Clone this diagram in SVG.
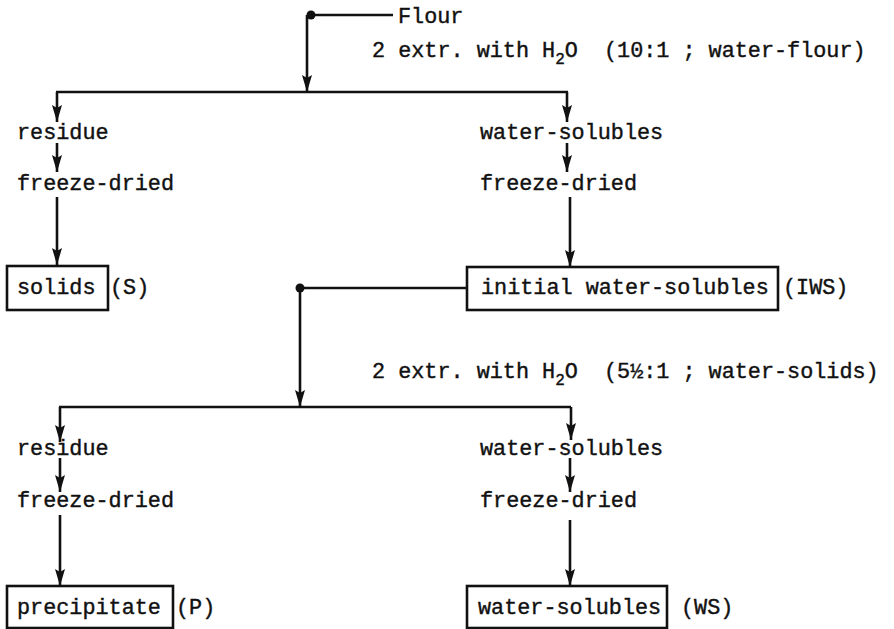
<svg xmlns="http://www.w3.org/2000/svg" width="894" height="629" viewBox="0 0 894 629">
<defs>
<marker id="ah" markerUnits="userSpaceOnUse" markerWidth="18" markerHeight="12" viewBox="0 0 18 12" refX="17" refY="6" orient="auto">
<path d="M0,1 L17,6 L0,11 L3,6 Z" fill="#111"/>
</marker>
<style>
.t{font-family:"Liberation Mono","Courier New",monospace;font-size:21.8px;fill:#111;stroke:#111;stroke-width:0.4}
.s{font-size:16px}
.ln{stroke:#111;stroke-width:2.6;fill:none}
.bx{stroke:#111;stroke-width:2.6;fill:#fff}
</style>
</defs>
<rect width="894" height="629" fill="#fff"/>
<g id="connectors">
<circle cx="311" cy="15" r="4.5" fill="#111"/>
<line class="ln" x1="309" y1="15" x2="393" y2="15"/>
<line class="ln" x1="307" y1="15" x2="307" y2="92" marker-end="url(#ah)"/>
<line class="ln" x1="56" y1="92" x2="568" y2="92"/>
<line class="ln" x1="57" y1="92" x2="57" y2="122" marker-end="url(#ah)"/>
<line class="ln" x1="567" y1="92" x2="567" y2="122" marker-end="url(#ah)"/>
<line class="ln" x1="57" y1="143" x2="57" y2="172" marker-end="url(#ah)"/>
<line class="ln" x1="567" y1="143" x2="567" y2="172" marker-end="url(#ah)"/>
<line class="ln" x1="57" y1="197" x2="57" y2="265" marker-end="url(#ah)"/>
<line class="ln" x1="570" y1="197" x2="570" y2="267" marker-end="url(#ah)"/>
<circle cx="300" cy="288" r="4.5" fill="#111"/>
<line class="ln" x1="467" y1="288" x2="300" y2="288"/>
<line class="ln" x1="300" y1="288" x2="300" y2="407" marker-end="url(#ah)"/>
<line class="ln" x1="59" y1="407" x2="571" y2="407"/>
<line class="ln" x1="60" y1="407" x2="60" y2="442" marker-end="url(#ah)"/>
<line class="ln" x1="571" y1="407" x2="571" y2="440" marker-end="url(#ah)"/>
<line class="ln" x1="60" y1="458" x2="60" y2="492" marker-end="url(#ah)"/>
<line class="ln" x1="570" y1="458" x2="570" y2="492" marker-end="url(#ah)" stroke-width="4"/>
<line class="ln" x1="60" y1="515" x2="60" y2="586" marker-end="url(#ah)"/>
<line class="ln" x1="570" y1="520" x2="570" y2="586" marker-end="url(#ah)"/>
</g>
<g id="flour"><text class="t" x="398" y="23">Flour</text></g>
<g id="extr1"><text class="t" x="372" y="57">2 extr. with H<tspan class="s" dy="7">2</tspan><tspan dy="-7">O&#160; (10:1 ; water-flour)</tspan></text></g>
<g id="residue1"><text class="t" x="17" y="139">residue</text></g>
<g id="fd1"><text class="t" x="17" y="190">freeze-dried</text></g>
<g id="ws1"><text class="t" x="480" y="139">water-solubles</text></g>
<g id="fd2"><text class="t" x="480" y="190">freeze-dried</text></g>
<g id="solids">
<rect class="bx" x="7" y="266" width="101" height="44"/>
<text class="t" x="17" y="294">solids</text>
<text class="t" x="110" y="294">(S)</text>
</g>
<g id="iws">
<rect class="bx" x="467" y="267" width="311" height="43"/>
<text class="t" x="481" y="294">initial water-solubles</text>
<text class="t" x="783" y="294">(IWS)</text>
</g>
<g id="extr2"><text class="t" x="372" y="378">2 extr. with H<tspan class="s" dy="7">2</tspan><tspan dy="-7">O&#160; (5½:1 ; water-solids)</tspan></text></g>
<g id="residue2"><text class="t" x="17" y="455">residue</text></g>
<g id="fd3"><text class="t" x="17" y="507">freeze-dried</text></g>
<g id="ws2"><text class="t" x="480" y="455">water-solubles</text></g>
<g id="fd4"><text class="t" x="480" y="507">freeze-dried</text></g>
<g id="precipitate">
<rect class="bx" x="7" y="586" width="166" height="42"/>
<text class="t" x="17" y="614">precipitate</text>
<text class="t" x="176" y="614">(P)</text>
</g>
<g id="ws3">
<rect class="bx" x="467" y="586" width="200" height="42"/>
<text class="t" x="478" y="614">water-solubles</text>
<text class="t" x="681" y="614">(WS)</text>
</g>
</svg>
